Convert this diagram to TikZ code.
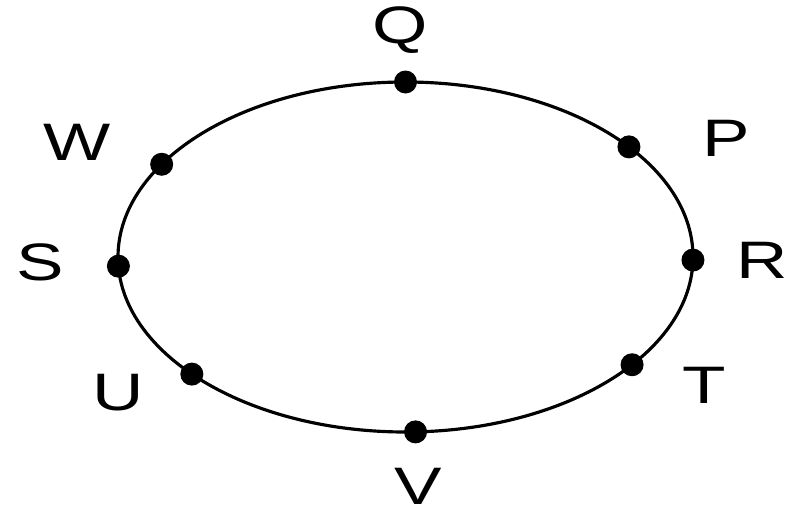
\documentclass[tikz,border=0pt]{standalone}
\usepackage{fontspec}
\usetikzlibrary{calc}
\newfontfamily\lblfont[FakeStretch=1.35]{Liberation Sans}
\tikzset{
  ring/.style={draw=black, line width=0.9pt},
  pt/.style={circle, fill=black, inner sep=0pt, minimum width=2.3mm, minimum height=1.7mm},
  plbl/.style={font=\lblfont\fontsize{15}{17}\selectfont, inner sep=0pt},
}
\begin{document}
\begin{tikzpicture}[x=1cm,y=1cm]
  \useasboundingbox (0,0) rectangle (7.880,-5.110);
  \coordinate (c) at (4.055,-2.570);
  \draw[ring] (c) ellipse [x radius=2.875cm, y radius=1.750cm];
  % points on the ring
  \node[pt] (q) at ($(c)+(90:2.875cm and 1.750cm)$) {};
  \node[pt] (p) at ($(c)+(39:2.875cm and 1.750cm)$) {};
  \node[pt] (r) at ($(c)+(-1:2.875cm and 1.750cm)$) {};
  \node[pt] (t) at ($(c)+(-38:2.875cm and 1.750cm)$) {};
  \node[pt] (v) at ($(c)+(-88:2.875cm and 1.750cm)$) {};
  \node[pt] (u) at ($(c)+(-138:2.875cm and 1.750cm)$) {};
  \node[pt] (s) at ($(c)+(183:2.875cm and 1.750cm)$) {};
  \node[pt] (w) at ($(c)+(148:2.875cm and 1.750cm)$) {};
  % letters
  \node[plbl] (lq) at (4.000,-0.300) {Q};
  \node[plbl] (lp) at (7.260,-1.380) {P};
  \node[plbl] (lr) at (7.620,-2.600) {R};
  \node[plbl] (lt) at (7.040,-3.850) {T};
  \node[plbl] (lv) at (4.180,-4.860) {V};
  \node[plbl] (lu) at (1.180,-3.930) {U};
  \node[plbl] (ls) at (0.400,-2.620) {S};
  \node[plbl] (lw) at (0.770,-1.420) {W};
\end{tikzpicture}
\end{document}
